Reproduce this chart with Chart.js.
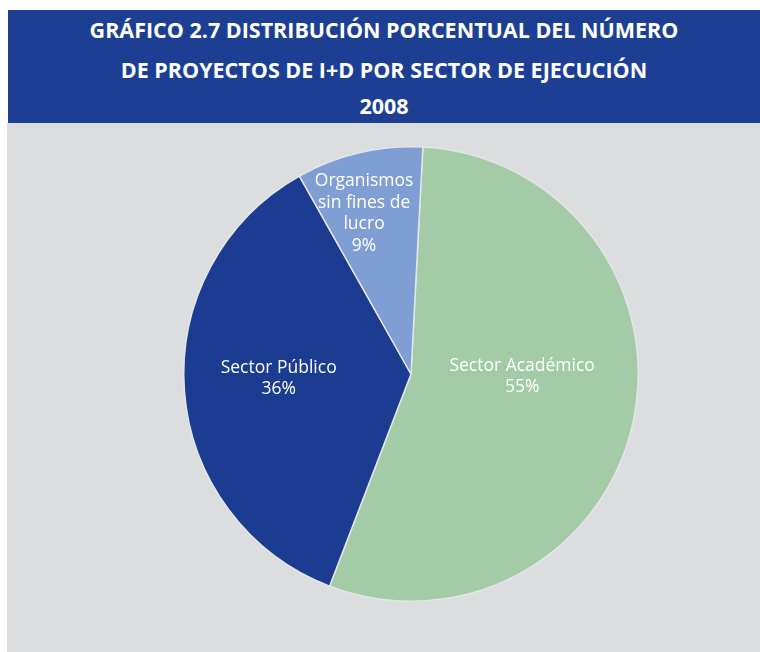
<!DOCTYPE html>
<html>
<head>
  <title>Gráfico 2.7</title>
  <style>
    body {
      margin: 0;
      width: 760px;
      height: 652px;
      background: #ffffff;
      position: relative;
      overflow: hidden;
      font-family: "Open Sans", sans-serif;
    }
    .title-bar {
      position: absolute;
      left: 8px;
      top: 10px;
      width: 752px;
      height: 113px;
      background: #1c3f94;
      color: #ffffff;
      font-weight: bold;
      font-size: 21.5px;
    }
    .title-bar div {
      position: absolute;
      left: 0;
      width: 100%;
      text-align: center;
      line-height: 24px;
    }
    .chart-container {
      position: absolute;
      left: 7px;
      top: 123px;
      width: 753px;
      height: 529px;
      background: #dcdddf;
    }
  </style>
  <script src="https://cdn.jsdelivr.net/npm/chart.js"></script>
</head>
<body>
  <div class="title-bar">
    <div style="top: 8px;">GRÁFICO 2.7 DISTRIBUCIÓN PORCENTUAL DEL NÚMERO</div>
    <div style="top: 48px;">DE PROYECTOS DE I+D POR SECTOR DE EJECUCIÓN</div>
    <div style="top: 84px;">2008</div>
  </div>
  <div class="chart-container">
    <canvas id="pieChart"></canvas>
  </div>
  <script>
    // Data
    const sectors = ['Sector Académico', 'Sector Público', 'Organismos sin fines de lucro'];
    const shares = [55, 36, 9];
    const labelLines = [
      ['Sector Académico', '55%'],
      ['Sector Público', '36%'],
      ['Organismos', 'sin fines de', 'lucro', '9%']
    ];
    const sliceColors = ['#a2cba6', '#1c3c92', '#7f9ed3'];

    // where each label block sits, relative to the slice's middle point
    const labelShift = [[0, -21], [-19, -4], [-21, -50]];

    // Helper plugin to write the labels inside the slices
    const sliceLabels = {
      id: 'sliceLabels',
      afterDatasetsDraw(chart) {
        const ctx = chart.ctx;
        const meta = chart.getDatasetMeta(0);
        ctx.save();
        ctx.fillStyle = '#ffffff';
        ctx.font = '17.5px "Open Sans", sans-serif';
        ctx.textAlign = 'center';
        ctx.textBaseline = 'middle';
        meta.data.forEach((arc, i) => {
          const p = arc.tooltipPosition();
          const lines = labelLines[i];
          const lh = 21.5;
          const x = p.x + labelShift[i][0];
          const y0 = p.y + labelShift[i][1] - (lines.length - 1) * lh / 2;
          lines.forEach((t, j) => ctx.fillText(t, x, y0 + j * lh));
        });
        ctx.restore();
      }
    };

    const ctx = document.getElementById('pieChart').getContext('2d');
    new Chart(ctx, {
      type: 'pie',
      data: {
        labels: sectors,
        datasets: [{
          data: shares,
          backgroundColor: sliceColors,
          borderColor: '#e4e5e8',
          borderWidth: 1.5
        }]
      },
      options: {
        responsive: true,
        maintainAspectRatio: false,
        animation: false,
        rotation: 3,
        layout: {
          padding: { left: 176, right: 121, top: 23, bottom: 50 }
        },
        plugins: {
          legend: { display: false },
          tooltip: { enabled: false }
        }
      },
      plugins: [sliceLabels]
    });
  </script>
</body>
</html>
